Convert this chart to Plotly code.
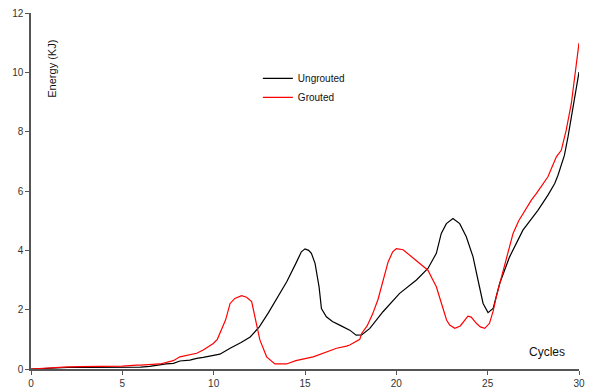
import plotly.graph_objects as go

# Ungrouted (black)
ungrouted_x = [0, 1, 2, 3, 4, 5, 6, 6.5, 6.9, 7.4, 7.8, 8.15, 8.7, 9.07, 9.43, 9.97, 10.34, 10.9, 11.5, 12.0, 12.5, 13.0, 13.6, 14.0, 14.5, 14.8, 15.0, 15.2, 15.35, 15.55, 15.77, 15.9, 16.17, 16.5, 16.9, 17.45, 17.8, 18.1, 18.55, 19.27, 20.18, 21.1, 21.73, 22.19, 22.46, 22.74, 23.1, 23.47, 23.83, 24.2, 24.47, 24.75, 25.02, 25.3, 25.66, 26.2, 26.93, 27.75, 28.3, 28.67, 28.85, 29.2, 29.4, 29.7, 30.0]
ungrouted_y = [0, 0.03, 0.05, 0.05, 0.05, 0.05, 0.06, 0.09, 0.13, 0.17, 0.19, 0.27, 0.3, 0.36, 0.39, 0.47, 0.5, 0.7, 0.89, 1.08, 1.42, 1.9, 2.55, 2.94, 3.56, 3.95, 4.05, 4.0, 3.9, 3.56, 2.77, 2.04, 1.76, 1.6, 1.48, 1.31, 1.14, 1.15, 1.37, 1.93, 2.55, 3.0, 3.39, 3.9, 4.57, 4.9, 5.07, 4.9, 4.46, 3.78, 3.0, 2.21, 1.9, 2.04, 2.89, 3.78, 4.68, 5.35, 5.86, 6.25, 6.53, 7.2, 7.83, 8.95, 10.01]

# Grouted (red)
grouted_x = [0, 1, 2, 2.7, 4, 5, 5.78, 6.0, 7.06, 7.79, 8.15, 8.7, 9.07, 9.43, 9.98, 10.2, 10.5, 10.65, 10.9, 11.16, 11.53, 11.8, 12.08, 12.26, 12.53, 12.9, 13.35, 13.99, 14.5, 15.45, 16.36, 16.73, 17.27, 17.45, 18.0, 18.1, 18.4, 18.7, 19.0, 19.27, 19.55, 19.8, 20.0, 20.37, 20.7, 21.1, 21.4, 21.73, 22.0, 22.19, 22.4, 22.56, 22.75, 22.92, 23.2, 23.5, 23.92, 24.1, 24.38, 24.6, 24.84, 25.1, 25.3, 25.47, 25.84, 26.1, 26.39, 26.7, 27.03, 27.4, 27.66, 28.0, 28.3, 28.76, 29.03, 29.3, 29.58, 30.0]
grouted_y = [0, 0.04, 0.07, 0.08, 0.09, 0.1, 0.13, 0.13, 0.17, 0.28, 0.41, 0.47, 0.53, 0.64, 0.86, 1.0, 1.42, 1.65, 2.21, 2.38, 2.47, 2.42, 2.27, 1.76, 0.98, 0.41, 0.17, 0.17, 0.28, 0.41, 0.62, 0.7, 0.77, 0.81, 1.0, 1.2, 1.45, 1.85, 2.35, 3.0, 3.61, 3.95, 4.06, 4.02, 3.85, 3.67, 3.5, 3.33, 3.0, 2.77, 2.35, 1.99, 1.65, 1.48, 1.37, 1.45, 1.78, 1.75, 1.54, 1.42, 1.37, 1.54, 1.95, 2.43, 3.28, 3.95, 4.57, 5.0, 5.35, 5.7, 5.91, 6.2, 6.48, 7.15, 7.37, 8.05, 8.95, 10.99]

x_ticks = [0, 5, 10, 15, 20, 25, 30]
y_ticks = [0, 2, 4, 6, 8, 10, 12]

fig = go.Figure()
fig.add_trace(go.Scatter(x=ungrouted_x, y=ungrouted_y, mode="lines", name="Ungrouted",
                         line=dict(color="#000000", width=1.2)))
fig.add_trace(go.Scatter(x=grouted_x, y=grouted_y, mode="lines", name="Grouted",
                         line=dict(color="#ff0000", width=1.2)))

axis_common = dict(showgrid=False, zeroline=False, showline=True, linecolor="#555555",
                   linewidth=1.5, ticks="outside", ticklen=4, tickcolor="#555555",
                   automargin=False,
                   tickfont=dict(family="Liberation Sans, Arial", size=10, color="#333333"))

fig.update_layout(
    width=591, height=390,
    margin=dict(l=31, r=12, t=13, b=21, autoexpand=False),
    plot_bgcolor="white", paper_bgcolor="white",
    font=dict(family="Liberation Sans, Arial", size=10, color="#111111"),
    xaxis=dict(range=[0, 30], tickvals=x_ticks, **axis_common),
    yaxis=dict(range=[0, 12], tickvals=y_ticks, **axis_common),
    showlegend=True,
    legend=dict(x=0.414, y=0.857, xanchor="left", yanchor="top", bgcolor="rgba(0,0,0,0)",
                font=dict(size=10, color="#111111"), itemwidth=30, tracegroupgap=0),
    annotations=[
        dict(text="Energy (KJ)", xref="paper", yref="paper", x=0.038, y=0.843,
             xanchor="center", yanchor="middle",
             textangle=-90, showarrow=False, font=dict(size=11, color="#111111")),
        dict(text="Cycles", xref="paper", yref="paper", x=0.942, y=0.048,
             xanchor="center", yanchor="middle",
             showarrow=False, font=dict(size=12, color="#111111")),
    ],
)

fig.write_html("out.html", config={"displayModeBar": False},
               post_script="document.body.style.margin='0';document.body.style.overflow='hidden';")
